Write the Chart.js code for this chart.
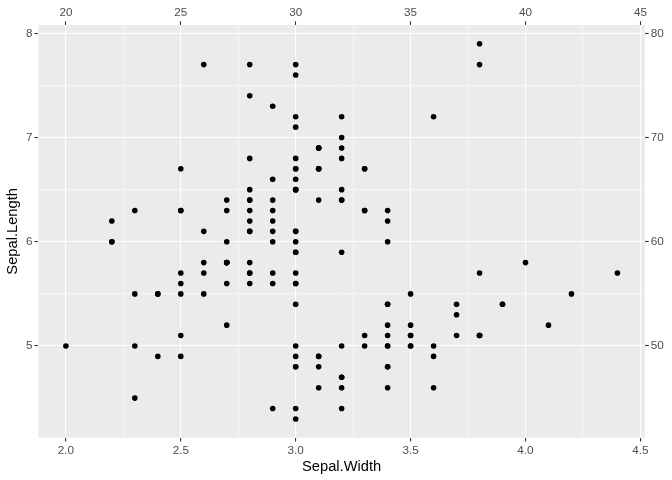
<!DOCTYPE html>
<html>
<head>
<meta charset="utf-8">
<script src="https://cdn.jsdelivr.net/npm/chart.js@4"></script>
<style>
  body { margin: 0; background: #fff; }
  canvas { display: block; }
</style>
</head>
<body>
<canvas id="chart" width="672" height="480"></canvas>
<script>
// iris: Sepal.Width (x) vs Sepal.Length (y)
const sepalWidth = [
  3.5,3.0,3.2,3.1,3.6,3.9,3.4,3.4,2.9,3.1,3.7,3.4,3.0,3.0,4.0,4.4,3.9,3.5,3.8,3.8,
  3.4,3.7,3.6,3.3,3.4,3.0,3.4,3.5,3.4,3.2,3.1,3.4,4.1,4.2,3.1,3.2,3.5,3.6,3.0,3.4,
  3.5,2.3,3.2,3.5,3.8,3.0,3.8,3.2,3.7,3.3,
  3.2,3.2,3.1,2.3,2.8,2.8,3.3,2.4,2.9,2.7,2.0,3.0,2.2,2.9,2.9,3.1,3.0,2.7,2.2,2.5,
  3.2,2.8,2.5,2.8,2.9,3.0,2.8,3.0,2.9,2.6,2.4,2.4,2.7,2.7,3.0,3.4,3.1,2.3,3.0,2.5,
  2.6,3.0,2.6,2.3,2.7,3.0,2.9,2.9,2.5,2.8,
  3.3,2.7,3.0,2.9,3.0,3.0,2.5,2.9,2.5,3.6,3.2,2.7,3.0,2.5,2.8,3.2,3.0,3.8,2.6,2.2,
  3.2,2.8,2.8,2.7,3.3,3.2,2.8,3.0,2.8,3.0,2.8,3.8,2.8,2.8,2.6,3.0,3.4,3.1,3.0,3.1,
  3.1,3.1,2.7,3.2,3.3,3.0,2.5,3.0,3.4,3.0
];
const sepalLength = [
  5.1,4.9,4.7,4.6,5.0,5.4,4.6,5.0,4.4,4.9,5.4,4.8,4.8,4.3,5.8,5.7,5.4,5.1,5.7,5.1,
  5.4,5.1,4.6,5.1,4.8,5.0,5.0,5.2,5.2,4.7,4.8,5.4,5.2,5.5,4.9,5.0,5.5,4.9,4.4,5.1,
  5.0,4.5,4.4,5.0,5.1,4.8,5.1,4.6,5.3,5.0,
  7.0,6.4,6.9,5.5,6.5,5.7,6.3,4.9,6.6,5.2,5.0,5.9,6.0,6.1,5.6,6.7,5.6,5.8,6.2,5.6,
  5.9,6.1,6.3,6.1,6.4,6.6,6.8,6.7,6.0,5.7,5.5,5.5,5.8,6.0,5.4,6.0,6.7,6.3,5.6,5.5,
  5.5,6.1,5.8,5.0,5.6,5.7,5.7,6.2,5.1,5.7,
  6.3,5.8,7.1,6.3,6.5,7.6,4.9,7.3,6.7,7.2,6.5,6.4,6.8,5.7,5.8,6.4,6.5,7.7,7.7,6.0,
  6.9,5.6,7.7,6.3,6.7,7.2,6.2,6.1,6.4,7.2,7.4,7.9,6.4,6.3,6.1,7.7,6.3,6.4,6.0,6.9,
  6.7,6.9,5.8,6.8,6.7,6.7,6.3,6.5,6.2,5.9
];
const xTicks = [2.0, 2.5, 3.0, 3.5, 4.0, 4.5];
const yTicks = [5, 6, 7, 8];
const xTopTicks = [20, 25, 30, 35, 40, 45];
const yRightTicks = [50, 60, 70, 80];

const points = sepalWidth.map((w, i) => ({ x: w, y: sepalLength[i] }));

const FONT = { family: 'Liberation Sans, Arial, sans-serif', size: 11.7 };
const TICK_COLOR = '#4D4D4D';
const AXIS_MARK = '#333333';

function withMinors(major) {
  const out = [];
  for (let i = 0; i < major.length; i++) {
    out.push({ value: major[i], major: true });
    if (i < major.length - 1) out.push({ value: (major[i] + major[i + 1]) / 2, major: false });
  }
  return out;
}
const isMajor = (list, v) => list.some(t => Math.abs(t - v) < 1e-9);

const panelBg = {
  id: 'panelBg',
  beforeDraw(chart) {
    const { ctx, chartArea: a } = chart;
    ctx.save();
    ctx.fillStyle = '#EBEBEB';
    ctx.fillRect(a.left, a.top, a.right - a.left, a.bottom - a.top);
    ctx.restore();
  }
};

function fixSize(size) {
  return function (scale) {
    if (scale.isHorizontal()) scale.height = size; else scale.width = size;
  };
}

new Chart(document.getElementById('chart'), {
  type: 'scatter',
  data: {
    datasets: [{
      data: points,
      backgroundColor: '#000',
      borderWidth: 0,
      pointRadius: 2.8,
      pointHoverRadius: 2.8
    }]
  },
  options: {
    responsive: false,
    animation: false,
    events: [],
    layout: { padding: 0 },
    plugins: { legend: { display: false }, tooltip: { enabled: false } },
    scales: {
      x: {
        type: 'linear', position: 'bottom', min: 1.88, max: 4.52,
        afterBuildTicks: s => { s.ticks = withMinors(xTicks); },
        afterFit: fixSize(42.3),
        border: { display: false },
        grid: {
          color: '#FFFFFF',
          lineWidth: c => isMajor(xTicks, c.tick.value) ? 1.1 : 0.55,
          tickColor: c => isMajor(xTicks, c.tick.value) ? AXIS_MARK : 'rgba(0,0,0,0)',
          tickLength: 3.7, tickWidth: 1.1
        },
        ticks: {
          autoSkip: false, maxRotation: 0, padding: 2, color: TICK_COLOR, font: FONT,
          callback: v => isMajor(xTicks, v) ? v.toFixed(1) : ''
        },
        title: { display: true, text: 'Sepal.Width', color: '#000', font: { family: FONT.family, size: 14.7 }, padding: { top: 1, bottom: 4 } }
      },
      y: {
        type: 'linear', position: 'left', min: 4.12, max: 8.08,
        afterBuildTicks: s => { s.ticks = withMinors(yTicks); },
        afterFit: fixSize(38.3),
        border: { display: false },
        grid: {
          color: '#FFFFFF',
          lineWidth: c => isMajor(yTicks, c.tick.value) ? 1.1 : 0.55,
          tickColor: c => isMajor(yTicks, c.tick.value) ? AXIS_MARK : 'rgba(0,0,0,0)',
          tickLength: 3.7, tickWidth: 1.1
        },
        ticks: {
          autoSkip: false, padding: 2, color: TICK_COLOR, font: FONT,
          callback: v => isMajor(yTicks, v) ? String(v) : ''
        },
        title: { display: true, text: 'Sepal.Length', color: '#000', font: { family: FONT.family, size: 14.7 }, padding: { top: 4, bottom: 2 } }
      },
      x2: {
        type: 'linear', position: 'top', min: 18.8, max: 45.2,
        afterBuildTicks: s => { s.ticks = xTopTicks.map(v => ({ value: v })); },
        afterFit: fixSize(25),
        border: { display: false },
        grid: { drawOnChartArea: false, tickColor: AXIS_MARK, tickLength: 3.7, tickWidth: 1.1 },
        ticks: { autoSkip: false, maxRotation: 0, padding: 2, color: TICK_COLOR, font: FONT }
      },
      y2: {
        type: 'linear', position: 'right', min: 41.2, max: 80.8,
        afterBuildTicks: s => { s.ticks = yRightTicks.map(v => ({ value: v })); },
        afterFit: fixSize(27),
        border: { display: false },
        grid: { drawOnChartArea: false, tickColor: AXIS_MARK, tickLength: 3.7, tickWidth: 1.1 },
        ticks: { autoSkip: false, padding: 2, color: TICK_COLOR, font: FONT }
      }
    }
  },
  plugins: [panelBg]
});
</script>
</body>
</html>
